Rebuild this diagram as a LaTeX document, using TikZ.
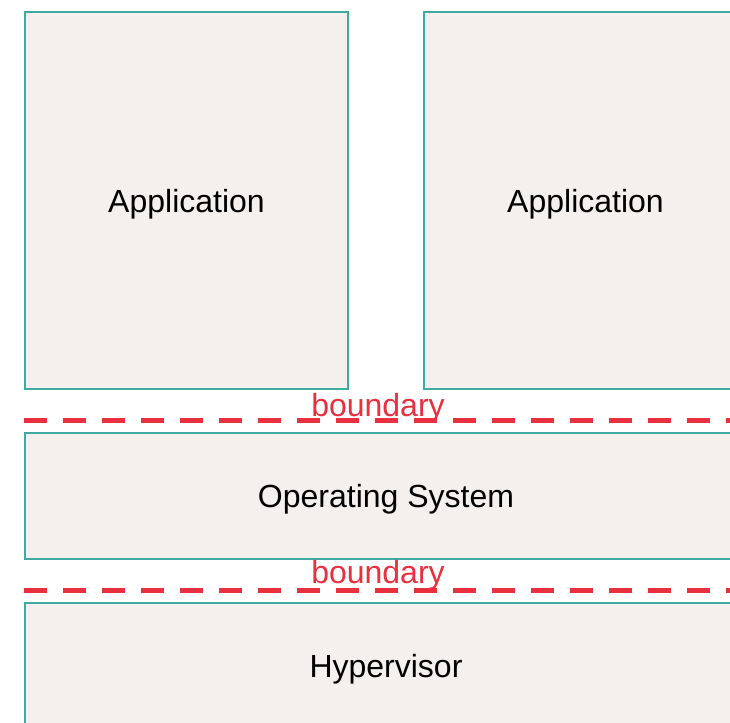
\documentclass[tikz,border=0pt]{standalone}
\usepackage{fontspec}
\setmainfont{Liberation Sans}
\usepackage{tikz}
\definecolor{kutuKenar}{HTML}{3FA9A2}
\definecolor{kutuDolgu}{HTML}{F3F0ED}
\definecolor{sinirKirmizi}{HTML}{E8303F}
\tikzset{
  layerbox/.style={draw=kutuKenar,fill=kutuDolgu,line width=1.5pt,anchor=north west,inner sep=0pt,text depth=0pt,font=\fontsize{24}{28}\selectfont},
  boundline/.style={sinirKirmizi,line width=3.75pt,dash pattern=on 17.25pt off 12pt},
  boundlabel/.style={sinirKirmizi,inner sep=0pt,font=\fontsize{24}{28}\selectfont}
}
\begin{document}
\begin{tikzpicture}[x=0.75pt,y=-0.75pt]
\useasboundingbox (0,0) rectangle (730,722);
\clip (0,0) rectangle (730,722);
\fill[white] (0,0) rectangle (730,722);
% layers
\node[layerbox,minimum width=242.25pt,minimum height=282.75pt] (app1) at (24,11) {Application};
\node[layerbox,minimum width=242.25pt,minimum height=282.75pt] (app2) at (423,11) {Application};
\node[layerbox,minimum width=541.5pt,minimum height=94.5pt] (os) at (24,432) {Operating System};
\node[layerbox,minimum width=541.5pt,minimum height=94.5pt] (hyp) at (24,602) {Hypervisor};
% boundaries
\coordinate (b1l) at (24,420);
\coordinate (b1r) at (735,420);
\coordinate (b2l) at (24,590);
\coordinate (b2r) at (735,590);
\draw[boundline] (b1l) -- (b1r);
\draw[boundline] (b2l) -- (b2r);
\node[boundlabel] (lab1) at (378,408) {boundary};
\node[boundlabel] (lab2) at (378,575) {boundary};
\end{tikzpicture}
\end{document}
